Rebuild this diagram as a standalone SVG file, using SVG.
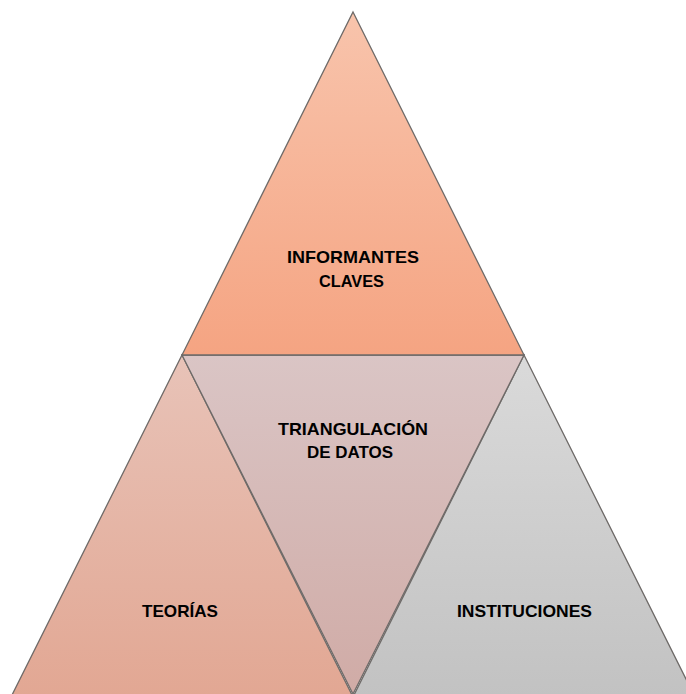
<svg xmlns="http://www.w3.org/2000/svg" width="686" height="694" viewBox="0 0 686 694">
<defs>
<linearGradient id="gTop" x1="0" y1="0" x2="0" y2="1"><stop offset="0" stop-color="#F8C4AC"/><stop offset="1" stop-color="#F5A482"/></linearGradient>
<linearGradient id="gMid" x1="0" y1="0" x2="0" y2="1"><stop offset="0" stop-color="#DAC5C5"/><stop offset="1" stop-color="#D0ABA6"/></linearGradient>
<linearGradient id="gLeft" x1="0" y1="0" x2="0" y2="1"><stop offset="0" stop-color="#E8C3B8"/><stop offset="1" stop-color="#E2A793"/></linearGradient>
<linearGradient id="gRight" x1="0" y1="0" x2="0" y2="1"><stop offset="0" stop-color="#DADADA"/><stop offset="1" stop-color="#C2C2C2"/></linearGradient>
</defs>
<style>
.tri{stroke:#6E6A68;stroke-width:1.3;stroke-linejoin:miter}
.lbl{font-family:"Liberation Sans",Arial,sans-serif;font-weight:bold;font-size:17px;fill:#000;text-anchor:middle}
</style>
<rect width="686" height="694" fill="#fff"/>
<g id="left">
<polygon class="tri" fill="url(#gLeft)" points="182,355 353,697 11,697"/>
<text class="lbl" x="180" y="617" textLength="76" lengthAdjust="spacingAndGlyphs">TEORÍAS</text>
</g>
<g id="right">
<polygon class="tri" fill="url(#gRight)" points="524,355 695,697 353,697"/>
<text class="lbl" x="524.5" y="617" textLength="135" lengthAdjust="spacingAndGlyphs">INSTITUCIONES</text>
</g>
<g id="middle">
<polygon class="tri" fill="url(#gMid)" points="182,355 524,355 353,694"/>
<text class="lbl" x="353" y="435" textLength="150" lengthAdjust="spacingAndGlyphs">TRIANGULACIÓN</text>
<text class="lbl" x="350" y="458" textLength="86" lengthAdjust="spacingAndGlyphs">DE DATOS</text>
</g>
<g id="top">
<polygon class="tri" fill="url(#gTop)" points="353,12 524,355 182,355"/>
<text class="lbl" x="353" y="263" textLength="132" lengthAdjust="spacingAndGlyphs">INFORMANTES</text>
<text class="lbl" x="351.5" y="287" textLength="65" lengthAdjust="spacingAndGlyphs">CLAVES</text>
</g>
<g id="connectors"/>
</svg>
